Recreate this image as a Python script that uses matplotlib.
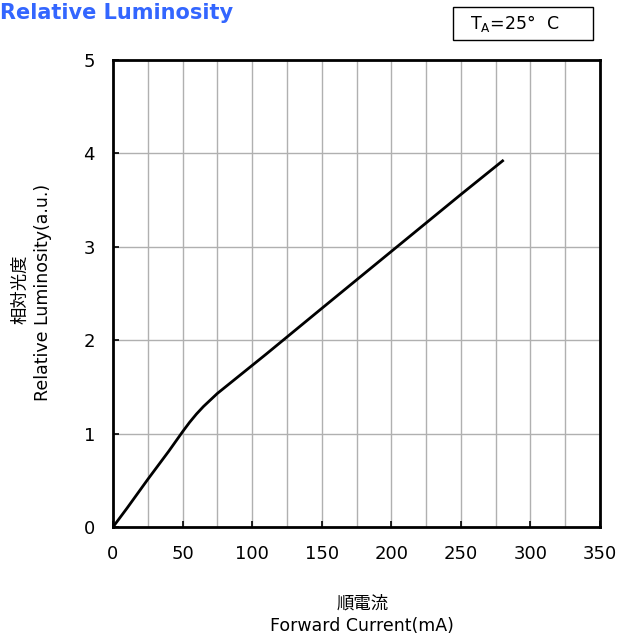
import matplotlib
matplotlib.use("Agg")
import matplotlib.pyplot as plt
from matplotlib.patches import Rectangle

plt.rcParams['font.family'] = ['DejaVu Sans', 'Noto Sans CJK JP']

current_ma = [0, 10, 25, 40, 50, 55, 60, 65, 70, 75, 80, 90, 100, 110, 150, 200, 250, 280]
luminosity = [0, 0.2, 0.51, 0.81, 1.02, 1.12, 1.21, 1.29, 1.36, 1.43, 1.49, 1.61, 1.73, 1.85, 2.34, 2.95, 3.56, 3.92]
x_ticks = [0, 50, 100, 150, 200, 250, 300, 350]
y_ticks = [0, 1, 2, 3, 4, 5]

fig = plt.figure(figsize=(6.19, 6.38), dpi=100)
ax = fig.add_axes([113/619, 1 - 527/638, (600-113)/619, (527-60)/638])

ax.plot(current_ma, luminosity, color='black', lw=2.0, zorder=3)
ax.set_xlim(0, 350)
ax.set_ylim(0, 5)
ax.set_xticks(x_ticks)
ax.set_yticks(y_ticks)
for v in range(25, 350, 25):
    ax.axvline(v, color='#b0b0b0', lw=1.0, zorder=1)
for v in range(1, 5):
    ax.axhline(v, color='#b0b0b0', lw=1.0, zorder=1)
ax.tick_params(axis='both', which='major', direction='in', length=4, width=1.2,
               labelsize=13, pad=13)
for s in ax.spines.values():
    s.set_linewidth(2.0)

fig.text(363/619, 1 - 604/638, '順電流', ha='center', va='center', fontsize=12.5)
fig.text(362/619, 1 - 626/638, 'Forward Current(mA)', ha='center', va='center', fontsize=12.5)
fig.text(20/619, 1 - 289/638, '相対光度', ha='center', va='center', rotation=90, fontsize=12.5)
fig.text(43/619, 1 - 292/638, 'Relative Luminosity(a.u.)', ha='center', va='center', rotation=90, fontsize=12.5)

fig.text(0/619, 1 - 13/638, 'Relative Luminosity', ha='left', va='center',
         fontsize=15, fontweight='bold', color='#3366ff')

fig.patches.append(Rectangle((453/619, 1 - 40/638), 140/619, 33/638,
                             transform=fig.transFigure, fill=False, ec='black', lw=1.0))
fig.text(470/619, 1 - 24/638, r'T$_\mathregular{A}$=25°  C', ha='left', va='center', fontsize=12.5)

fig.savefig('out.png', dpi=100)
